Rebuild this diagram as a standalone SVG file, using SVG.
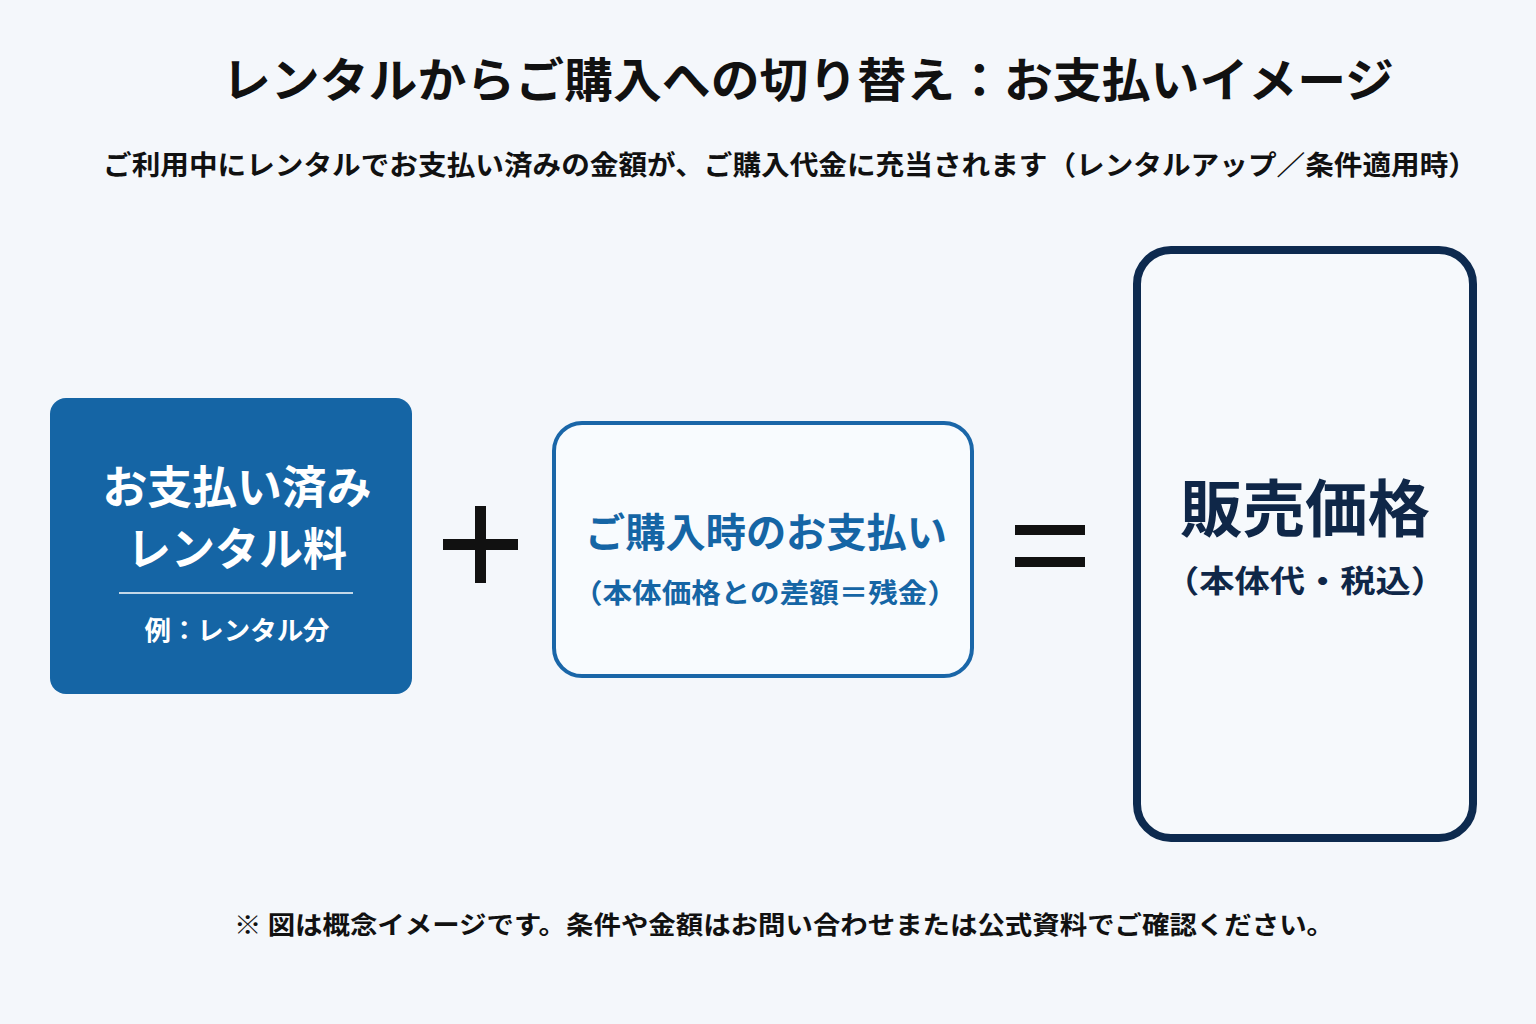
<svg xmlns="http://www.w3.org/2000/svg" width="1536" height="1024" viewBox="0 0 1536 1024">
<style>
text{font-family:"Noto Sans CJK JP","Noto Sans",sans-serif;font-weight:700;text-anchor:middle;dominant-baseline:central}
.title{font-size:47px;fill:#111}
.sub{font-size:27px;fill:#111}
.w{fill:#fff}
.blue{fill:#1565a5}
.navy{fill:#0f2748}
.foot{font-size:25px;fill:#111}
</style>
<rect width="1536" height="1024" fill="#f4f7fb"/>
<text class="title" x="808" y="76" textLength="1172" lengthAdjust="spacingAndGlyphs">レンタルからご購入への切り替え：お支払いイメージ</text>
<text class="sub" x="790" y="163" textLength="1374" lengthAdjust="spacingAndGlyphs">ご利用中にレンタルでお支払い済みの金額が、ご購入代金に充当されます（レンタルアップ／条件適用時）</text>
<g id="paid">
<rect x="50" y="398" width="362" height="296" rx="16" fill="#1565a5"/>
<text class="w" x="237" y="484" font-size="45" textLength="269" lengthAdjust="spacingAndGlyphs">お支払い済み</text>
<text class="w" x="237" y="546" font-size="45" textLength="220" lengthAdjust="spacingAndGlyphs">レンタル料</text>
<line x1="119" y1="593" x2="353" y2="593" stroke="#fff" stroke-width="1.5"/>
<text class="w" x="237" y="628" font-size="26" textLength="185" lengthAdjust="spacingAndGlyphs">例：レンタル分</text>
</g>
<g id="ops">
<rect x="443" y="539" width="75" height="11" fill="#111"/>
<rect x="475" y="506" width="11" height="77" fill="#111"/>
<rect x="1015" y="525" width="70" height="10" fill="#111"/>
<rect x="1015" y="557" width="70" height="10" fill="#111"/>
</g>
<g id="pay">
<rect x="554" y="423" width="418" height="253" rx="28" fill="#f8fbfe" stroke="#1a66a8" stroke-width="4"/>
<text class="blue" x="766" y="530" font-size="40" textLength="362" lengthAdjust="spacingAndGlyphs">ご購入時のお支払い</text>
<text class="blue" x="765" y="591" font-size="27" textLength="384" lengthAdjust="spacingAndGlyphs">（本体価格との差額＝残金）</text>
</g>
<g id="price">
<rect x="1137" y="250" width="336" height="588" rx="34" fill="#f6f9fc" stroke="#0d2a4f" stroke-width="8"/>
<text class="navy" x="1305" y="505" font-size="62" textLength="250" lengthAdjust="spacingAndGlyphs">販売価格</text>
<text class="navy" x="1305" y="578" font-size="31" textLength="282" lengthAdjust="spacingAndGlyphs">（本体代・税込）</text>
</g>
<g id="connectors"></g>
<text class="foot" x="784" y="923" textLength="1100" lengthAdjust="spacingAndGlyphs">※ 図は概念イメージです。条件や金額はお問い合わせまたは公式資料でご確認ください。</text>
</svg>
